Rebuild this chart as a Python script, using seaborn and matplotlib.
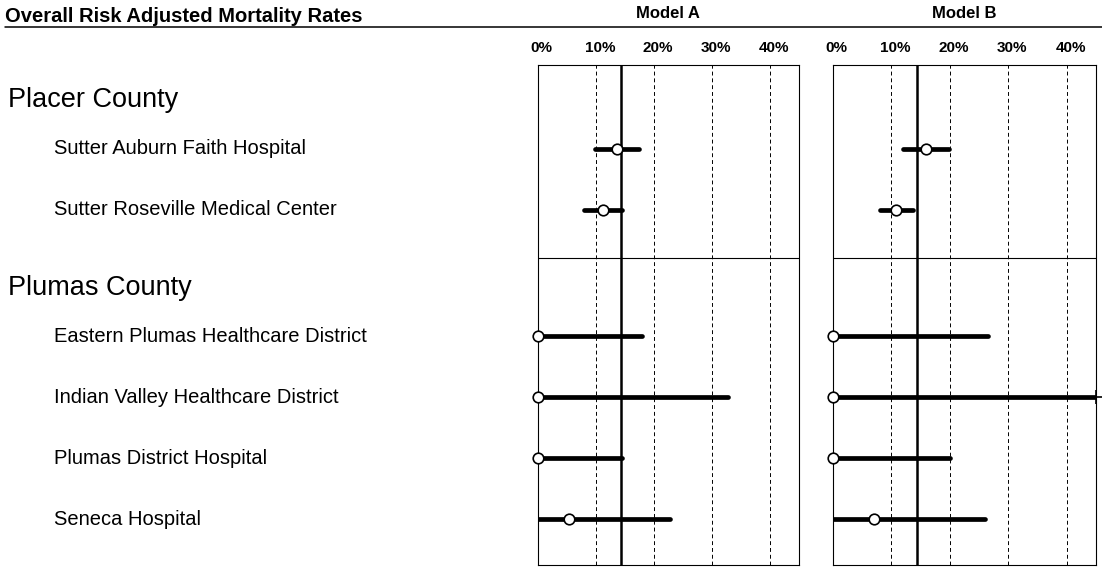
import matplotlib
matplotlib.use("Agg")
import matplotlib.pyplot as plt
import matplotlib.transforms as mtransforms
from matplotlib import font_manager
import pandas as pd
import seaborn as sns

# data (rates in %)
counties = ["Placer County", "Plumas County"]
hospitals = [
    "Sutter Auburn Faith Hospital",
    "Sutter Roseville Medical Center",
    "Eastern Plumas Healthcare District",
    "Indian Valley Healthcare District",
    "Plumas District Hospital",
    "Seneca Hospital",
]
hospital_county = [0, 0, 1, 1, 1, 1]

model_a_rate = [13.6, 11.2, 0.0, 0.0, 0.0, 5.4]
model_a_low = [9.8, 7.9, 0.0, 0.0, 0.0, 0.0]
model_a_high = [17.4, 14.5, 18.0, 32.8, 14.6, 22.8]

model_b_rate = [15.9, 10.8, 0.0, 0.0, 0.0, 7.1]
model_b_low = [12.0, 8.0, 0.0, 0.0, 0.0, 0.0]
model_b_high = [19.9, 13.7, 26.5, 47.0, 20.0, 26.0]

models = ["Model A", "Model B"]
overall_rate = 14.4
ticks = [0, 10, 20, 30, 40]
x_max = 45

sns.set_theme(style="white")
names = {f.name for f in font_manager.fontManager.ttflist}
narrow = "Liberation Sans Narrow" in names
plt.rcParams["font.family"] = ["Liberation Sans", "DejaVu Sans"]
plt.rcParams["text.color"] = "black"
plt.rcParams["xtick.color"] = "black"
narrow_family = ["Liberation Sans Narrow", "Liberation Sans"] if narrow else ["Liberation Sans"]
hosp_size = 16.5 if narrow else 14.5
tick_size = 12 if narrow else 11

# vertical layout in row units
block_start = [0.0, 3.08]
ypos = []
count = {}
for c in hospital_county:
    i = count.get(c, 0)
    ypos.append(block_start[c] + 1.37 + i)
    count[c] = i + 1
header_y = [s + 0.58 for s in block_start]
sep_y = 3.16
y_bottom = 8.2

df = pd.DataFrame({
    "hospital": hospitals * 2,
    "model": [m for m in models for _ in hospitals],
    "rate": model_a_rate + model_b_rate,
    "low": model_a_low + model_b_low,
    "high": model_a_high + model_b_high,
    "y": ypos * 2,
})

fig = plt.figure(figsize=(11.02, 5.67), dpi=100)
W, H = 1102, 567
panels = [(537.7, 799.0), (832.7, 1096.0)]
axes = []
for (x0, x1), model in zip(panels, models):
    ax = fig.add_axes([x0 / W, (H - 565) / H, (x1 - x0) / W, 500 / H])
    axes.append(ax)
    sub = df[df["model"] == model]

    for t in ticks[1:]:
        ax.axvline(t, color="black", lw=0.7, ls=(0, (4, 3)), zorder=1)
    ax.axvline(overall_rate, color="black", lw=1.8, zorder=2)
    ax.axhline(sep_y, color="black", lw=0.8, zorder=2)

    ax.hlines(sub["y"], sub["low"], sub["high"].clip(upper=x_max), color="black",
              lw=3.4, capstyle="round", zorder=3)
    sns.scatterplot(data=sub, x="rate", y="y", ax=ax, s=58, color="white",
                    edgecolor="black", linewidth=1.2, zorder=4, clip_on=False, legend=False)
    over = sub[sub["high"] > x_max]
    if len(over):
        ax.scatter([x_max] * len(over), over["y"], marker="+", s=90, color="black",
                   lw=1.2, zorder=5, clip_on=False)

    ax.set_xlim(0, x_max)
    ax.set_ylim(y_bottom, 0)
    ax.xaxis.tick_top()
    ax.set_xticks(ticks)
    ax.set_xticklabels([f"{t}%" for t in ticks], fontweight="bold",
                       family=narrow_family, fontsize=tick_size)
    ax.tick_params(axis="x", length=0, pad=7)
    for lab in ax.get_xticklabels():
        lab.set_transform(lab.get_transform() + mtransforms.ScaledTranslation(4 / 100, 0, fig.dpi_scale_trans))
    ax.set_yticks([])
    ax.set_xlabel("")
    ax.set_ylabel("")
    for sp in ax.spines.values():
        sp.set_visible(True)
        sp.set_color("black")
        sp.set_linewidth(0.8)

    fig.text((x0 + x1) / 2 / W, 1 - 14 / H, model, ha="center", va="center",
             fontsize=12, fontweight="bold")

# left side labels
trans = mtransforms.blended_transform_factory(fig.transFigure, axes[0].transData)
for name, y in zip(counties, header_y):
    fig.text(8 / W, y, name, transform=trans, ha="left", va="center", fontsize=19.5)
for name, y in zip(hospitals, ypos):
    fig.text(54 / W, y, name, transform=trans, ha="left", va="center",
             fontsize=hosp_size, family=narrow_family)

fig.text(5 / W, 1 - 16 / H, "Overall Risk Adjusted Mortality Rates", ha="left",
         va="center", fontsize=14.5, fontweight="bold")
fig.add_artist(plt.Line2D([5 / W, 1.0], [1 - 27 / H, 1 - 27 / H], color="black", lw=1.1))

fig.savefig("out.png", dpi=100)
